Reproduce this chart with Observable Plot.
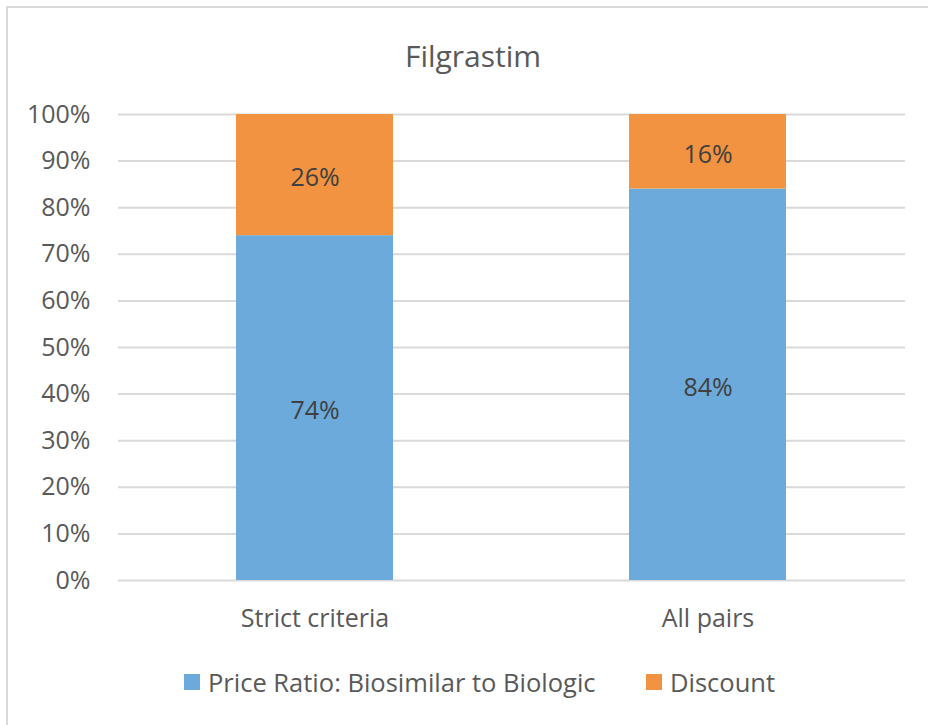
<!DOCTYPE html>
<html>
<head>
<meta charset="utf-8">
<script src="https://cdn.jsdelivr.net/npm/d3@7"></script>
<script src="https://cdn.jsdelivr.net/npm/@observablehq/plot@0.6"></script>
<style>
  html, body { margin: 0; padding: 0; background: #fff; }
  body { width: 928px; height: 725px; position: relative; overflow: hidden; font-family: "Open Sans", sans-serif; }
  #frame { position: absolute; left: 6px; top: 6px; width: 940px; height: 740px; border: 2px solid #d9d9d9; box-sizing: border-box; }
  #chart { position: absolute; left: 0; top: 0; }
  #title { position: absolute; left: 0; width: 946px; top: 36px; text-align: center; font-size: 30px; color: #595959; line-height: 40px; }
  #legend { position: absolute; top: 666px; left: 0; width: 928px; height: 34px; font-size: 25.5px; color: #595959; }
  .sw { position: absolute; width: 16px; height: 16px; top: 8px; }
  .lt { position: absolute; top: 0; line-height: 32px; white-space: nowrap; }
</style>
</head>
<body>
<div id="frame"></div>
<div id="chart"></div>
<div id="title">Filgrastim</div>
<div id="legend"></div>
<script>
const categories = ["Strict criteria", "All pairs"];
const seriesNames = ["Price Ratio: Biosimilar to Biologic", "Discount"];
const priceRatio = [0.74, 0.84];
const discount = [0.26, 0.16];
const yTicks = [0, 0.1, 0.2, 0.3, 0.4, 0.5, 0.6, 0.7, 0.8, 0.9, 1.0];
const colors = ["#6CAADB", "#F29341"];

const data = [];
categories.forEach((c, i) => {
  data.push({category: c, series: seriesNames[0], value: priceRatio[i]});
  data.push({category: c, series: seriesNames[1], value: discount[i]});
});

const plot = Plot.plot({
  width: 928,
  height: 725,
  marginTop: 114,
  marginBottom: 145,
  marginLeft: 118,
  marginRight: 23,
  style: {fontFamily: "'Open Sans', sans-serif", fontSize: "25px", color: "#595959", background: "transparent"},
  x: {domain: categories, paddingInner: 0.6, paddingOuter: 0.3, label: null},
  y: {domain: [0, 1], label: null},
  color: {domain: seriesNames, range: colors},
  marks: [
    Plot.ruleY(yTicks, {stroke: "#d9d9d9", strokeWidth: 2}),
    Plot.barY(data, {x: "category", y: "value", fill: "series", order: seriesNames}),
    Plot.text(data, Plot.stackY({x: "category", y: "value", z: "series", order: seriesNames,
      text: d => Math.round(d.value * 100) + "%", fill: "#404040", fontSize: 25, dy: 3})),
    Plot.axisY({ticks: yTicks, tickFormat: d => Math.round(d * 100) + "%", tickSize: 0, tickPadding: 28, fontSize: 25, fill: "#595959"}),
    Plot.axisX({tickSize: 0, tickPadding: 29, fontSize: 25, fill: "#595959"})
  ]
});
document.getElementById("chart").appendChild(plot);

const legend = document.getElementById("legend");
const legendPos = [{sw: 184, tx: 208}, {sw: 646, tx: 670}];
seriesNames.forEach((s, i) => {
  const sw = document.createElement("div");
  sw.className = "sw";
  sw.style.left = legendPos[i].sw + "px";
  sw.style.background = colors[i];
  legend.appendChild(sw);
  const t = document.createElement("div");
  t.className = "lt";
  t.style.left = legendPos[i].tx + "px";
  t.textContent = s;
  legend.appendChild(t);
});
</script>
</body>
</html>
